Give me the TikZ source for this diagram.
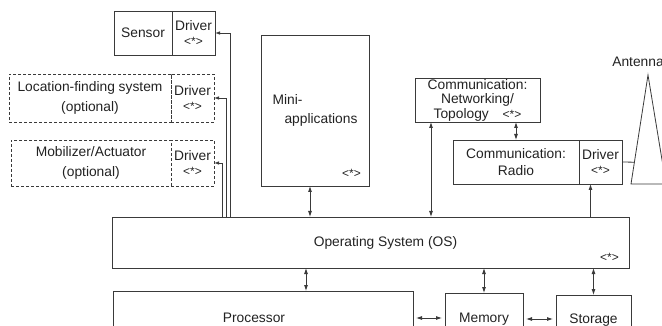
\documentclass[tikz,border=0pt]{standalone}
\usepackage{fontspec}
\setmainfont{Liberation Sans}
\usepackage{tikz}
\usetikzlibrary{arrows.meta,positioning,calc}
\definecolor{linegray}{HTML}{3A3A3A}
\definecolor{textgray}{HTML}{222222}
\tikzset{
  blk/.style={draw=linegray,line width=0.8pt,rectangle,inner sep=0pt,outer sep=0pt,text=textgray,align=center},
  optblk/.style={blk,dash pattern=on 3pt off 2pt},
  drvblk/.style={blk,minimum width=43pt,minimum height=44pt},
  tagtxt/.style={inner sep=0pt,text=textgray,font=\fontsize{12}{13}\selectfont},
  link/.style={draw=linegray,line width=0.8pt},
  dbl/.style={link,{Latex[length=6pt,width=4pt]}-{Latex[length=6pt,width=4pt]}},
  one/.style={link,-{Latex[length=6pt,width=4pt]}},
  tap/.style={link,{Latex[length=5pt,width=3.5pt]}-},
}
\newcommand{\tagmark}{{\fontsize{12}{13}\selectfont<*>}}

\begin{document}
\begin{tikzpicture}[x=1pt,y=-1pt,font=\fontsize{13.8}{14.5}\selectfont]
  \path[use as bounding box,clip] (0,0) rectangle (662,326);

  % sensing and moving parts, each with its driver
  \node[blk,minimum width=58pt,minimum height=44pt] (sensor) at (143,33) {Sensor};
  \node[drvblk,right=0pt of sensor] (sensordrv) {Driver\\[1pt]\tagmark};
  \node[optblk,minimum width=162pt,minimum height=48pt] (locsys) at (90,98) {Location-finding system\\[6pt](optional)};
  \node[drvblk,optblk,minimum height=48pt,right=0pt of locsys] (locdrv) {Driver\\[1pt]\tagmark};
  \node[optblk,minimum width=160pt,minimum height=46pt] (mobil) at (91,163) {Mobilizer/Actuator\\[6pt](optional)};
  \node[drvblk,optblk,minimum height=46pt,right=0pt of mobil] (mobdrv) {Driver\\[1pt]\tagmark};

  % applications
  \node[blk,minimum width=108pt,minimum height=151pt,align=left] (mini) at (315,110.5) {Mini-\\[4pt]\hspace*{12pt}applications};
  \node[tagtxt,anchor=south east] (minitag) at ([shift={(-8,-8)}]mini.south east) {<*>};

  % communication stack
  \node[blk,minimum width=125pt,minimum height=44pt] (netw) at (477.5,100) {Communication:\\Networking/\\Topology\quad\tagmark};
  \node[blk,minimum width=126pt,minimum height=44pt] (radio) at (516,162) {Communication:\\[2pt]Radio};
  \node[drvblk,right=0pt of radio] (radiodrv) {Driver\\[1pt]\tagmark};

  % antenna
  \coordinate (antL) at (631,184);
  \coordinate (antTop) at (648,75);
  \coordinate (antR) at (666,184);
  \draw[link] (antL) -- (antTop) -- (antR) -- cycle;
  \node[text=textgray,inner sep=0pt,anchor=base] (antlbl) at (638,67) {Antenna};

  % operating system
  \node[blk,minimum width=517pt,minimum height=51pt] (os) at (370.5,242.5) {\hspace*{30pt}Operating System (OS)};
  \node[tagtxt,anchor=south east] (ostag) at ([shift={(-10,-6)}]os.south east) {<*>};

  % hardware
  \node[blk,minimum width=300pt,minimum height=54pt] (proc) at (263,318) {\hspace*{-18pt}Processor};
  \node[blk,minimum width=78pt,minimum height=52pt] (mem) at (484,319) {Memory};
  \node[blk,minimum width=75pt,minimum height=50pt] (stor) at (593.5,320) {Storage};

  % driver taps down to the OS
  \draw[tap] (sensordrv.east) -| ([xshift=118pt]os.north west);
  \draw[tap] (locdrv.east) -| ([xshift=114pt]os.north west);
  \draw[tap] (mobdrv.east) -| ([xshift=110pt]os.north west);

  % OS links
  \coordinate (miniport) at ([xshift=-5pt]mini.south);
  \coordinate (netwport) at ([xshift=16pt]netw.south west);
  \coordinate (drvport) at ([xshift=-10pt]radiodrv.south);
  \coordinate (procport) at ([xshift=43pt]proc.north);
  \draw[dbl] (miniport) -- (miniport |- os.north);
  \draw[dbl] (netwport) -- (netwport |- os.north);
  \draw[dbl] (radio.north) -- (radio.north |- netw.south);
  \draw[one] (drvport |- os.north) -- (drvport);
  \draw[link] (radiodrv.east) -- ($(antL)!0.2!(antTop)$);
  \draw[dbl] (procport) -- (procport |- os.south);
  \draw[dbl] (mem.north) -- (mem.north |- os.south);
  \draw[dbl] (stor.north) -- (stor.north |- os.south);
  \draw[dbl,shorten <=3pt,shorten >=3pt] (proc.east) -- (proc.east -| mem.west);
  \draw[dbl,shorten <=3pt,shorten >=3pt] (mem.east) -- (mem.east -| stor.west);
\end{tikzpicture}
\end{document}
